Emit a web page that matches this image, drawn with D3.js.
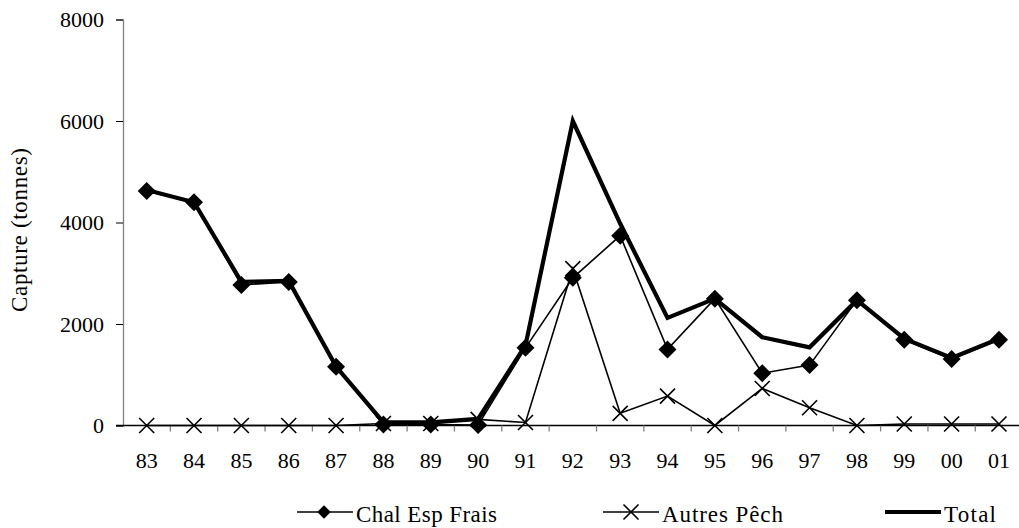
<!DOCTYPE html>
<html>
<head>
<meta charset="utf-8">
<script src="https://cdn.jsdelivr.net/npm/d3@7"></script>
<style>
  body { margin: 0; background: #fff; }
</style>
</head>
<body>
<div id="chart"></div>
<script>
const width = 1019;
const height = 528;
const serif = "Liberation Serif";

const years = ["83","84","85","86","87","88","89","90","91","92","93","94","95","96","97","98","99","00","01"];
const chalEspFrais = [4620, 4400, 2770, 2830, 1160, 20, 20, 10, 1530, 2910, 3740, 1500, 2500, 1030, 1190, 2470, 1690, 1310, 1690];
const autresPech = [0, 0, 0, 0, 0, 40, 40, 120, 60, 3090, 240, 580, 0, 730, 350, 0, 30, 30, 30];
const total = [4640, 4400, 2830, 2850, 1160, 60, 60, 130, 1580, 6000, 3980, 2120, 2500, 1740, 1540, 2470, 1710, 1330, 1710];
const yTicks = [0, 2000, 4000, 6000, 8000];

const margin = { left: 123, top: 19.5, bottom: 425.5 };
const bandW = 47.35;

let x = d3.scaleBand()
  .domain(years)
  .range([margin.left, margin.left + bandW * years.length]);
let y = d3.scaleLinear()
  .domain([0, 8000])
  .range([margin.bottom, margin.top]);

let svg = d3.select("#chart")
  .append("svg")
  .attr("width", width)
  .attr("height", height)
  .attr("viewBox", [0, 0, width, height]);

// y axis
let yAxis = svg.append("g")
  .attr("transform", `translate(${margin.left},0)`)
  .call(d3.axisLeft(y).tickValues(yTicks).tickFormat(d3.format("d")).tickSize(7).tickPadding(12));
yAxis.select(".domain").attr("stroke", "#808080").attr("stroke-width", 1.3);
yAxis.selectAll(".tick line").attr("stroke", "#000");
yAxis.selectAll("text")
  .attr("font-family", serif)
  .attr("font-size", 22)
  .attr("fill", "#000");

// x axis
let xAxis = svg.append("g")
  .attr("transform", `translate(0,${margin.bottom})`)
  .call(d3.axisBottom(x).tickSize(0).tickPadding(27));
xAxis.select(".domain").remove();
xAxis.selectAll("text")
  .attr("font-family", serif)
  .attr("font-size", 22)
  .attr("fill", "#000");
svg.append("line")
  .attr("x1", margin.left - 7).attr("x2", width)
  .attr("y1", margin.bottom).attr("y2", margin.bottom)
  .attr("stroke", "#000").attr("stroke-width", 1.3);
svg.append("g")
  .selectAll("line")
  .data(years.slice(1))
  .join("line")
    .attr("x1", d => x(d)).attr("x2", d => x(d))
    .attr("y1", margin.bottom).attr("y2", margin.bottom + 6)
    .attr("stroke", "#808080").attr("stroke-width", 1.3);

svg.append("text")
  .attr("transform", "translate(27,230) rotate(-90)")
  .attr("text-anchor", "middle")
  .attr("font-family", serif)
  .attr("font-size", 23)
  .attr("textLength", 164)
  .text("Capture (tonnes)");

const cx = (d, i) => x(years[i]) + x.bandwidth() / 2;
let line = d3.line().x(cx).y(d => y(d));

// Total
svg.append("path")
  .datum(total)
  .attr("d", line)
  .attr("fill", "none")
  .attr("stroke", "#000")
  .attr("stroke-width", 4.2)
  .attr("stroke-linejoin", "miter");

// Autres Pêch
svg.append("path")
  .datum(autresPech)
  .attr("d", line)
  .attr("fill", "none")
  .attr("stroke", "#000")
  .attr("stroke-width", 1.6);

// Chal Esp Frais
svg.append("path")
  .datum(chalEspFrais)
  .attr("d", line)
  .attr("fill", "none")
  .attr("stroke", "#000")
  .attr("stroke-width", 1.6);

const diamond = "M0,-9L9,0L0,9L-9,0Z";
const cross = "M-7.5,-7.5L7.5,7.5M-7.5,7.5L7.5,-7.5";

svg.append("g")
  .selectAll("path")
  .data(autresPech)
  .join("path")
    .attr("transform", (d, i) => `translate(${cx(d, i)},${y(d)})`)
    .attr("d", cross)
    .attr("stroke", "#000")
    .attr("stroke-width", 1.6)
    .attr("fill", "none");

svg.append("g")
  .selectAll("path")
  .data(chalEspFrais)
  .join("path")
    .attr("transform", (d, i) => `translate(${cx(d, i)},${y(d)})`)
    .attr("d", diamond)
    .attr("fill", "#000");

// legend
const legend = [
  { name: "Chal Esp Frais", x: 297, len: 141, marker: "diamond", w: 1.6 },
  { name: "Autres Pêch", x: 603, len: 121, marker: "cross", w: 1.6 },
  { name: "Total", x: 885, len: 52, marker: null, w: 4 }
];
let lg = svg.append("g")
  .selectAll("g")
  .data(legend)
  .join("g")
    .attr("transform", d => `translate(${d.x},512)`);
lg.append("line")
  .attr("x1", 0).attr("x2", 56)
  .attr("stroke", "#000")
  .attr("stroke-width", d => d.w);
lg.filter(d => d.marker === "diamond").append("path")
  .attr("transform", "translate(27,0) scale(0.75)")
  .attr("d", diamond)
  .attr("fill", "#000");
lg.filter(d => d.marker === "cross").append("path")
  .attr("transform", "translate(28,0)")
  .attr("d", cross)
  .attr("stroke", "#000")
  .attr("stroke-width", 1.6);
lg.append("text")
  .attr("x", 59)
  .attr("y", 10)
  .attr("font-family", serif)
  .attr("font-size", 23)
  .attr("textLength", d => d.len)
  .text(d => d.name);
</script>
</body>
</html>
